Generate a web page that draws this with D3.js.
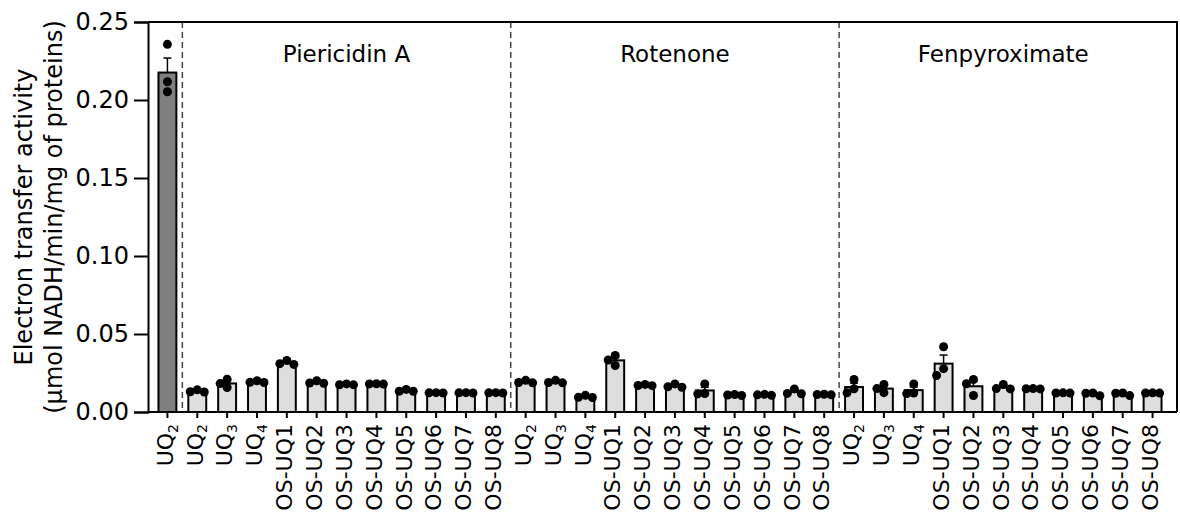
<!DOCTYPE html>
<html>
<head>
<meta charset="utf-8">
<script src="https://cdn.jsdelivr.net/npm/d3@7"></script>
<style>
  body { margin: 0; background: #fff; }
  svg { font-family: "DejaVu Sans", Verdana, sans-serif; }
</style>
</head>
<body>
<svg id="chart" width="1180" height="523"></svg>
<script>
// x categories: the control, then the same 11 compounds under each inhibitor
let compounds = ['UQ2', 'UQ3', 'UQ4', 'OS-UQ1', 'OS-UQ2', 'OS-UQ3', 'OS-UQ4', 'OS-UQ5', 'OS-UQ6', 'OS-UQ7', 'OS-UQ8'];
let groups = ['Piericidin A', 'Rotenone', 'Fenpyroximate'];
let categories = ['UQ2'].concat(compounds, compounds, compounds);

// bar heights (mean), SEM, and the three replicate points, in category order
let means = [0.2176,
  0.0133, 0.0183, 0.0193, 0.0315, 0.0190, 0.0176, 0.0180, 0.0137, 0.0123, 0.0123, 0.0123,
  0.0193, 0.0193, 0.0098, 0.0331, 0.0172, 0.0167, 0.0138, 0.0109, 0.0110, 0.0128, 0.0112,
  0.0160, 0.0150, 0.0140, 0.0310, 0.0165, 0.0158, 0.0149, 0.0122, 0.0115, 0.0116, 0.0122];
let sems = [0.0093,
  0.0003, 0.0016, 0.0003, 0.0007, 0.0005, 0.0003, 0.0001, 0.0004, 0.0001, 0.0001, 0.0001,
  0.0005, 0.0005, 0.0005, 0.0019, 0.0003, 0.0007, 0.0020, 0.0002, 0.0002, 0.0010, 0.0002,
  0.0025, 0.0016, 0.0020, 0.0055, 0.0030, 0.0009, 0.0001, 0.0002, 0.0003, 0.0003, 0.0001];
let replicates = [[0.2357, 0.2117, 0.2053],
  [0.0142, 0.0130, 0.0128], [0.0210, 0.0182, 0.0157], [0.0200, 0.0190, 0.0189], [0.0330, 0.0310, 0.0305],
  [0.0200, 0.0186, 0.0184], [0.0180, 0.0174, 0.0175], [0.0181, 0.0180, 0.0179], [0.0145, 0.0133, 0.0133],
  [0.0124, 0.0123, 0.0122], [0.0124, 0.0123, 0.0122], [0.0124, 0.0123, 0.0122],
  [0.0203, 0.0189, 0.0187], [0.0203, 0.0189, 0.0187], [0.0107, 0.0094, 0.0093], [0.0362, 0.0333, 0.0298],
  [0.0177, 0.0170, 0.0169], [0.0180, 0.0162, 0.0159], [0.0180, 0.0118, 0.0116], [0.0112, 0.0109, 0.0106],
  [0.0113, 0.0110, 0.0107], [0.0148, 0.0119, 0.0117], [0.0114, 0.0112, 0.0110],
  [0.0208, 0.0149, 0.0123], [0.0176, 0.0150, 0.0124], [0.0180, 0.0122, 0.0118], [0.0418, 0.0278, 0.0234],
  [0.0208, 0.0181, 0.0106], [0.0176, 0.0150, 0.0148], [0.0150, 0.0149, 0.0148], [0.0123, 0.0122, 0.0121],
  [0.0122, 0.0120, 0.0104], [0.0122, 0.0120, 0.0105], [0.0123, 0.0122, 0.0121]];
let yTicks = [0, 0.05, 0.10, 0.15, 0.20, 0.25];

let svg = d3.select('#chart');
let pLeft = 148, pRight = 1177, pTop = 22, pBottom = 412;

let idx = d3.range(categories.length);
let x = d3.scaleBand().domain(idx).range([152.5, 1167.5]).paddingInner(0.4).paddingOuter(0.2);
let y = d3.scaleLinear().domain([0, 0.25]).range([pBottom, pTop]);
let cx = i => x(i) + x.bandwidth() / 2;

// group separators
let seps = [0, 11, 22];
svg.selectAll('.sep').data(seps).enter().append('line')
    .attr('x1', i => (cx(i) + cx(i + 1)) / 2)
    .attr('x2', i => (cx(i) + cx(i + 1)) / 2)
    .attr('y1', pTop).attr('y2', pBottom)
    .attr('stroke', '#444').attr('stroke-width', 1.5).attr('stroke-dasharray', '6,4');

svg.selectAll('.grp').data(groups).enter().append('text')
    .attr('x', (g, k) => (cx(1 + k * 11) + cx(11 + k * 11)) / 2)
    .attr('y', 62)
    .attr('text-anchor', 'middle')
    .attr('font-size', 23)
    .text(g => g);

// bars
svg.selectAll('.bar').data(idx).enter().append('rect')
    .attr('x', i => x(i))
    .attr('y', i => y(means[i]))
    .attr('width', x.bandwidth())
    .attr('height', i => y(0) - y(means[i]))
    .attr('fill', i => i == 0 ? '#7f7f7f' : '#dedede')
    .attr('stroke', '#000').attr('stroke-width', 2);

// error bars (upper half, GraphPad style)
let err = svg.selectAll('.err').data(idx).enter().append('g');
err.append('line')
    .attr('x1', i => cx(i)).attr('x2', i => cx(i))
    .attr('y1', i => y(means[i])).attr('y2', i => y(means[i] + sems[i]))
    .attr('stroke', '#000').attr('stroke-width', 1.5);
err.append('line')
    .attr('x1', i => cx(i) - 4).attr('x2', i => cx(i) + 4)
    .attr('y1', i => y(means[i] + sems[i])).attr('y2', i => y(means[i] + sems[i]))
    .attr('stroke', '#000').attr('stroke-width', 1.5);

// replicate points, dodged sideways when they would overlap
let r = 4.5, d = 7;
let pts = [];
idx.forEach(i => {
    let placed = [];
    replicates[i].slice().sort((a, b) => b - a).forEach(v => {
        let py = y(v);
        for (let off of [0, -d, d, -2 * d, 2 * d]) {
            let ok = placed.every(p => Math.hypot(p.off - off, p.py - py) >= d);
            if (ok) { placed.push({off: off, py: py}); break; }
        }
    });
    placed.forEach(p => pts.push({x: cx(i) + p.off, y: p.py}));
});
svg.selectAll('.pt').data(pts).enter().append('circle')
    .attr('cx', p => p.x).attr('cy', p => p.y).attr('r', r).attr('fill', '#000');

// frame
svg.append('path')
    .attr('d', 'M' + pLeft + ',' + pTop + 'H' + pRight + 'V' + pBottom)
    .attr('fill', 'none').attr('stroke', '#000').attr('stroke-width', 2);

// y axis
let yaxis = d3.axisLeft(y).tickValues(yTicks).tickFormat(d3.format('.2f')).tickSize(14).tickPadding(5);
let yg = svg.append('g').attr('transform', 'translate(' + pLeft + ',0)').call(yaxis);
yg.selectAll('path, line').attr('stroke', '#000').attr('stroke-width', 2);
yg.selectAll('text').attr('font-size', 24).attr('font-family', '"DejaVu Sans", Verdana, sans-serif').attr('fill', '#000');

// x axis
let xaxis = d3.axisBottom(x).tickSize(6).tickFormat('');
let xg = svg.append('g').attr('transform', 'translate(0,' + pBottom + ')').call(xaxis);
xg.select('.domain').attr('d', 'M' + pLeft + ',0H' + pRight);
xg.selectAll('path, line').attr('stroke', '#000').attr('stroke-width', 2);

let lab = svg.selectAll('.xl').data(idx).enter().append('text')
    .attr('transform', i => 'translate(' + (cx(i) - 2) + ',424) rotate(-90)')
    .attr('text-anchor', 'end')
    .attr('dy', '0.33em')
    .attr('font-size', 22);
lab.each(function(i) {
    let t = d3.select(this);
    let m = categories[i].match(/^UQ(\d)$/);
    if (m) {
        t.append('tspan').text('UQ');
        t.append('tspan').attr('font-size', 14).attr('dy', '0.35em').text(m[1]);
    } else {
        t.text(categories[i]);
    }
});

// y title
let yt = svg.append('text')
    .attr('transform', 'translate(0,' + ((pTop + pBottom) / 2) + ') rotate(-90)')
    .attr('text-anchor', 'middle')
    .attr('font-size', 24);
yt.append('tspan').attr('x', 0).attr('y', 32).text('Electron transfer activity');
yt.append('tspan').attr('x', 0).attr('y', 62).text('(\u03bcmol NADH/min/mg of proteins)');
</script>
</body>
</html>
